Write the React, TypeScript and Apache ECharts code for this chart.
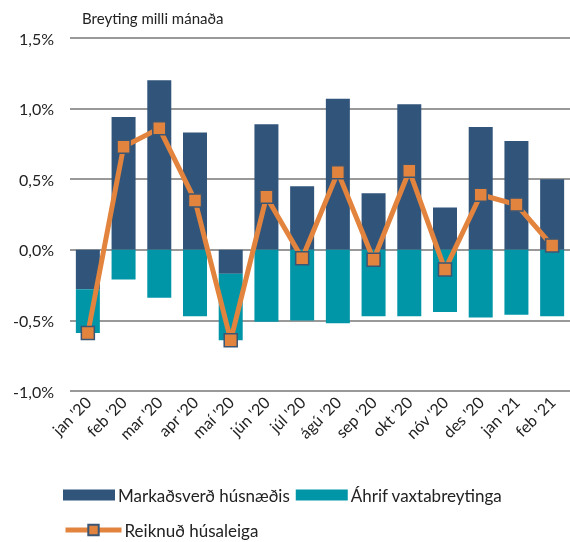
import React, { useEffect, useRef } from "react";
import * as echarts from "echarts";

const categories = ["jan '20", "feb '20", "mar '20", "apr '20", "maí '20", "jún '20", "júl '20", "ágú '20", "sep '20", "okt '20", "nóv '20", "des '20", "jan '21", "feb '21"];
const markadsverd = [-0.28, 0.94, 1.2, 0.83, -0.17, 0.89, 0.45, 1.07, 0.4, 1.03, 0.3, 0.87, 0.77, 0.5];
const vaxtabreytinga = [-0.31, -0.21, -0.34, -0.47, -0.47, -0.51, -0.5, -0.52, -0.47, -0.47, -0.44, -0.48, -0.46, -0.47];
const husaleiga = [-0.59, 0.73, 0.86, 0.35, -0.64, 0.375, -0.06, 0.55, -0.07, 0.56, -0.14, 0.39, 0.32, 0.03];

const FONT = "Lato";

export default function App() {
  const ref = useRef<HTMLDivElement>(null);
  useEffect(() => {
    const chart = echarts.init(ref.current!, null, { renderer: "svg" });
    const fmt = (v: number) => v.toFixed(1).replace(".", ",") + "%";
    chart.setOption({
      animation: false,
      textStyle: { fontFamily: FONT },
      grid: { left: 70, right: 0, top: 38, bottom: 151, containLabel: false },
      graphic: [
        { type: "text", left: 82, top: 10, style: { text: "Breyting milli mánaða", font: `15px ${FONT}`, fill: "#222" } },
      ],
      legend: [
        {
          data: ["Markaðsverð húsnæðis", "Áhrif vaxtabreytinga"],
          left: 58, top: 481, itemWidth: 52, itemHeight: 11, itemGap: 6,
          textStyle: { fontFamily: FONT, fontSize: 17, lineHeight: 18, color: "#222", padding: [0, 0, 0, -2] },
          icon: "rect",
        },
        {
          data: ["Reiknuð húsaleiga"],
          left: 58, top: 516, itemWidth: 56, itemHeight: 13, itemGap: 4,
          lineStyle: { width: 5, color: "#E2843E" },
          textStyle: { fontFamily: FONT, fontSize: 17, lineHeight: 18, color: "#222", padding: [0, 0, 0, -2] },
        },
      ],
      xAxis: {
        type: "category",
        data: categories,
        axisLine: { show: false },
        axisTick: { show: false },
        axisLabel: { rotate: 45, fontFamily: FONT, fontSize: 16, color: "#222", interval: 0, margin: 8 },
      },
      yAxis: {
        type: "value",
        min: -1,
        max: 1.5,
        interval: 0.5,
        axisLabel: { formatter: fmt, fontFamily: FONT, fontSize: 16, color: "#222", margin: 16 },
        splitLine: { lineStyle: { color: "#999", width: 2 } },
        axisLine: { show: false },
        axisTick: { show: false },
      },
      series: [
        {
          name: "Markaðsverð húsnæðis",
          type: "bar",
          stack: "a",
          data: markadsverd,
          barWidth: 24,
          itemStyle: { color: "#31557A" },
        },
        {
          name: "Áhrif vaxtabreytinga",
          type: "bar",
          stack: "a",
          data: vaxtabreytinga,
          barWidth: 24,
          itemStyle: { color: "#0096A8" },
        },
        {
          name: "Reiknuð húsaleiga",
          type: "line",
          data: husaleiga,
          symbol: "rect",
          symbolSize: 13,
          lineStyle: { color: "#E2843E", width: 5 },
          itemStyle: { color: "#E2843E", borderColor: "#3A5674", borderWidth: 1.5 },
          z: 5,
        },
      ],
    });
    return () => chart.dispose();
  }, []);
  return <div ref={ref} style={{ position: "fixed", left: 0, top: 0, width: 570, height: 542 }} />;
}
